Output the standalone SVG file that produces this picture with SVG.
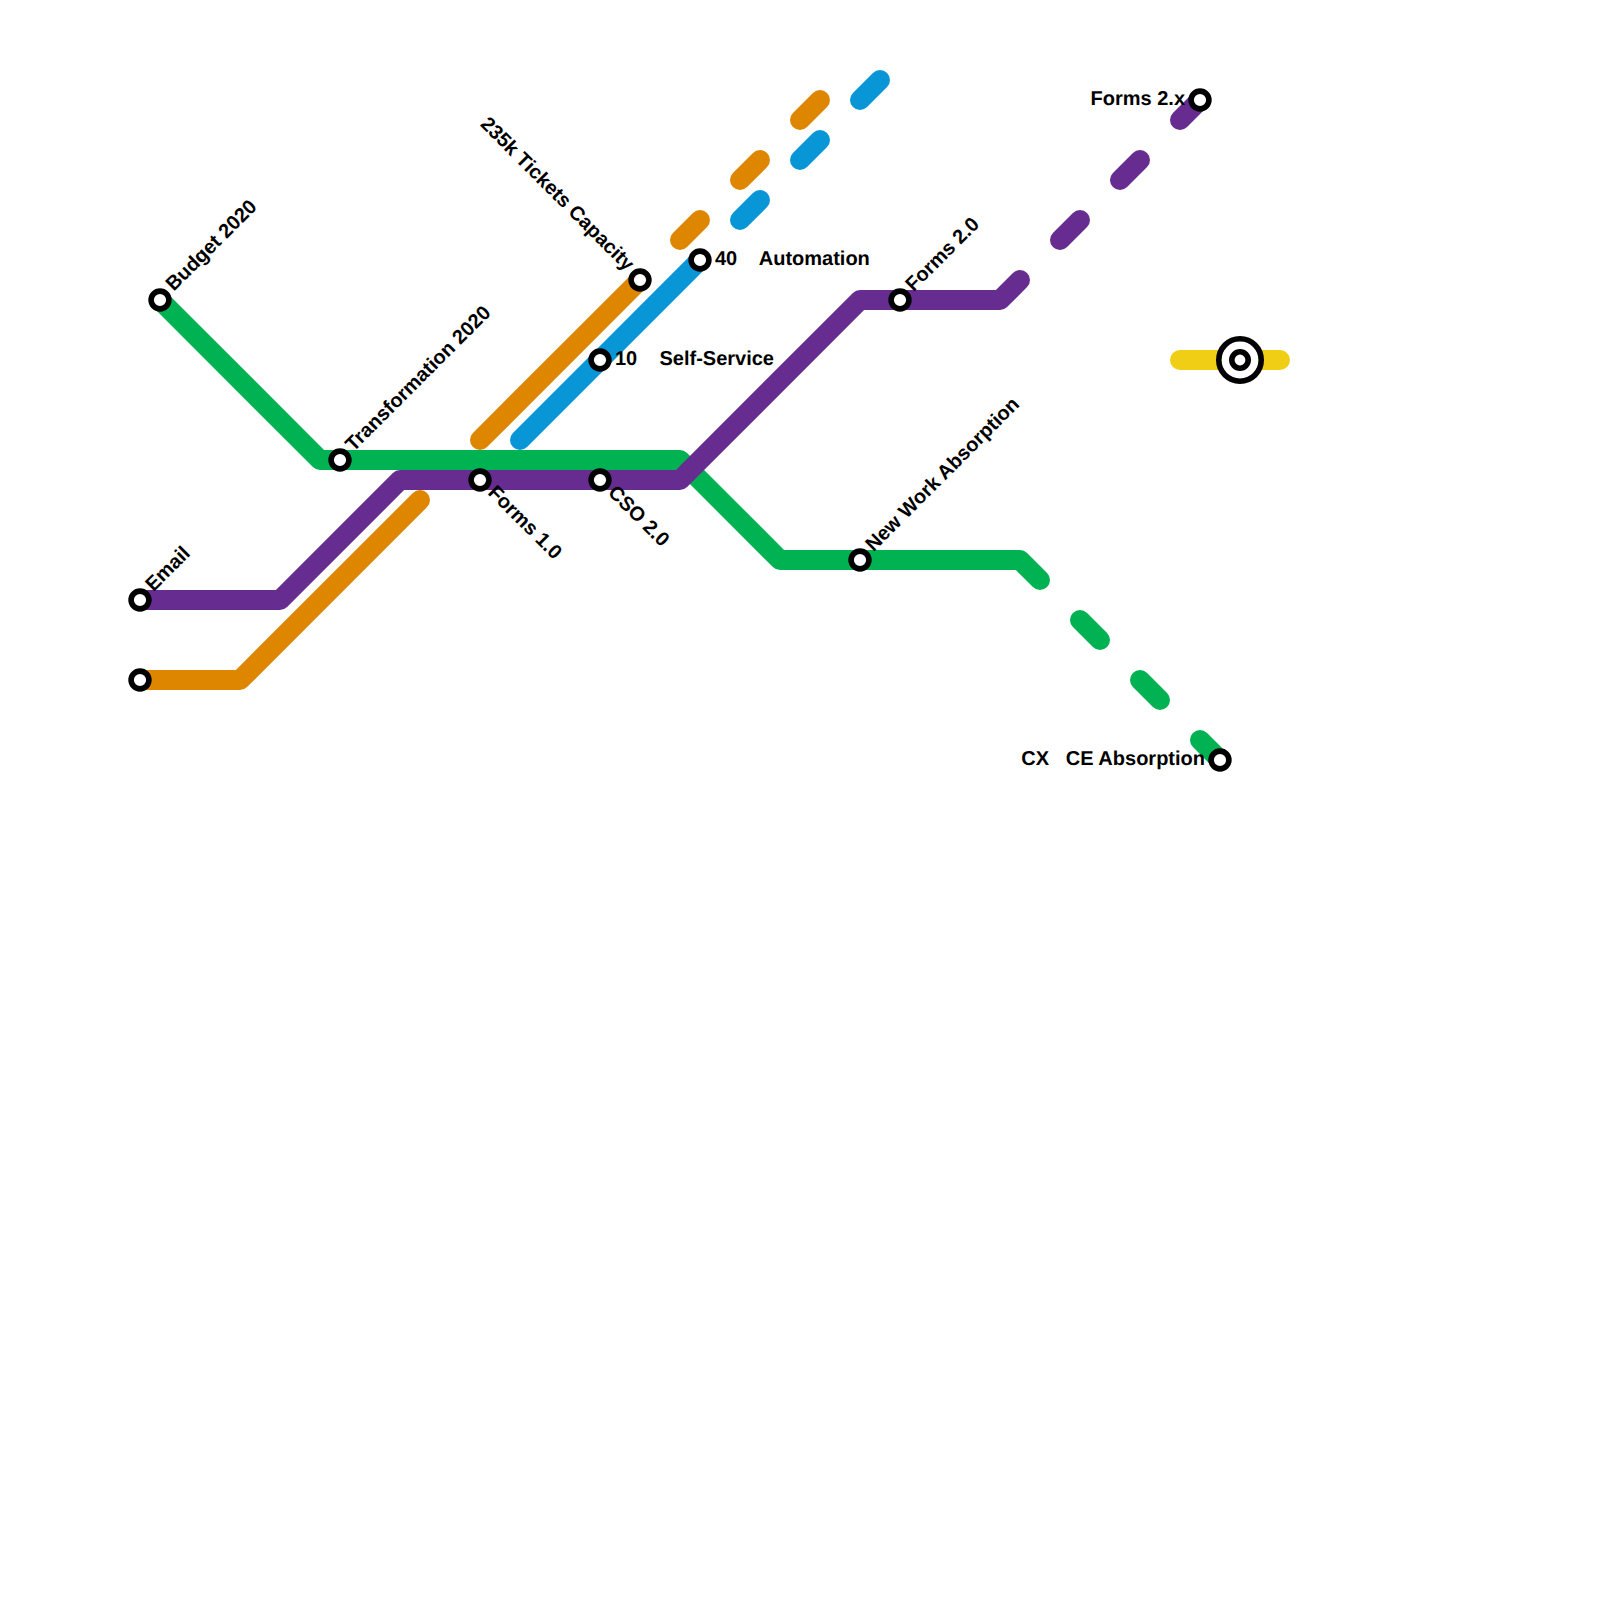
<svg xmlns="http://www.w3.org/2000/svg" width="1600" height="1600" viewBox="0 0 1600 1600">
<style>
.l{fill:none;stroke-width:20;stroke-linecap:round;stroke-linejoin:round}
.g{stroke:#00b251}.p{stroke:#662c90}.o{stroke:#df8600}.b{stroke:#0896d7}.y{stroke:#f0ce15}
.s{fill:#fff;stroke:#000;stroke-width:5.6}
text{font-family:"Liberation Sans",Arial,sans-serif;font-weight:700;font-size:20px;fill:#000;white-space:pre;text-rendering:geometricPrecision}
.e{text-anchor:end}
</style>
<rect width="1600" height="1600" fill="#fff"/>
<g id="connectors">
<path class="l y" d="M1180 360H1280"/>
<path class="l o" d="M140 680H240L420 500M480 440L640 280M680 240L700 220M740 180L760 160M800 120L820 100"/>
<path class="l b" d="M520 440L700 260M740 220L760 200M800 160L820 140M860 100L880 80"/>
<path class="l g" d="M160 300L320 460H680L780 560H1020L1040 580M1080 620L1100 640M1140 680L1160 700M1200 740L1220 760"/>
<path class="l p" d="M140 600H280L400 480H680L860 300H1000L1020 280M1060 240L1080 220M1120 180L1140 160M1180 120L1200 100"/>
</g>
<g id="n-budget"><circle class="s" cx="160" cy="300" r="8.9"/><text transform="translate(160 300) rotate(-45)" x="15.5" y="4">Budget 2020</text></g>
<g id="n-transformation"><circle class="s" cx="340" cy="460" r="8.9"/><text transform="translate(340 460) rotate(-45)" x="15" y="4">Transformation 2020</text></g>
<g id="n-email"><circle class="s" cx="140" cy="600" r="8.9"/><text transform="translate(140 600) rotate(-45)" x="15" y="4">Email</text></g>
<g id="n-orange-start"><circle class="s" cx="140" cy="680" r="8.9"/></g>
<g id="n-forms1"><circle class="s" cx="480" cy="480" r="8.9"/><text transform="translate(480 480) rotate(45)" x="14.5" y="4.5">Forms 1.0</text></g>
<g id="n-cso"><circle class="s" cx="600" cy="480" r="8.9"/><text transform="translate(600 480) rotate(45)" x="14.5" y="4.5">CSO 2.0</text></g>
<g id="n-tickets"><circle class="s" cx="640" cy="280" r="8.9"/><text class="e" transform="translate(640 280) rotate(45)" x="-15.5" y="4">235k Tickets Capacity</text></g>
<g id="n-10"><circle class="s" cx="600" cy="360" r="8.9"/><text x="615" y="365">10    Self-Service</text></g>
<g id="n-40"><circle class="s" cx="700" cy="260" r="8.9"/><text x="715" y="265">40    Automation</text></g>
<g id="n-forms2"><circle class="s" cx="900" cy="300" r="8.9"/><text transform="translate(900 300) rotate(-45)" x="15" y="4">Forms 2.0</text></g>
<g id="n-newwork"><circle class="s" cx="860" cy="560" r="8.9"/><text transform="translate(860 560) rotate(-45)" x="15" y="4">New Work Absorption</text></g>
<g id="n-forms2x"><circle class="s" cx="1200" cy="100" r="8.9"/><text class="e" x="1185" y="105">Forms 2.x</text></g>
<g id="n-ce"><circle class="s" cx="1220" cy="760" r="8.9"/><text class="e" x="1205" y="765">CX   CE Absorption</text></g>
<g id="n-interchange"><circle class="s" cx="1240" cy="360" r="21.2"/><circle class="s" cx="1240" cy="360" r="8.2"/></g>
</svg>
